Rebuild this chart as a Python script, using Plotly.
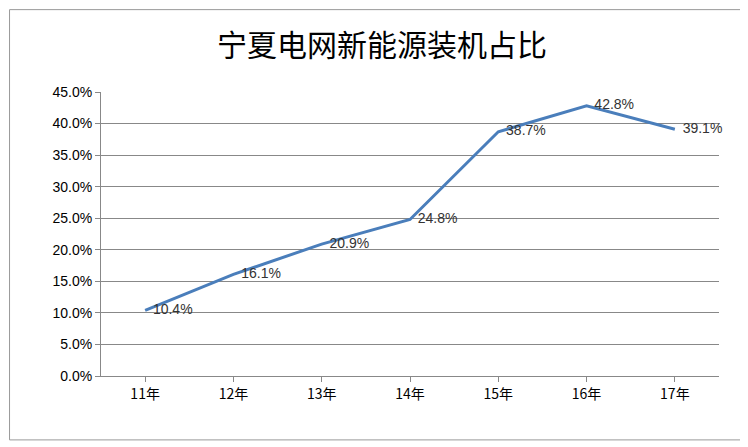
import plotly.graph_objects as go

categories = ["11年", "12年", "13年", "14年", "15年", "16年", "17年"]
values = [10.4, 16.1, 20.9, 24.8, 38.7, 42.8, 39.1]
labels = ["10.4%", "16.1%", "20.9%", "24.8%", "38.7%", "42.8%", "39.1%"]

fig = go.Figure(go.Scatter(
    x=categories, y=values, mode="lines+text", text=["  " + t for t in labels],
    textposition="middle right", line=dict(color="#4a7ebb", width=3),
    textfont=dict(size=14, color="#333", family="Liberation Sans, Arial"),
    cliponaxis=False))

fig.update_layout(
    width=748, height=447, paper_bgcolor="white", plot_bgcolor="white",
    margin=dict(l=93, r=37, t=84, b=79),
    title=dict(text="宁夏电网新能源装机占比", x=0.5, xanchor="center", y=0.915, yanchor="middle",
               font=dict(size=30, family="Noto Sans CJK SC", color="#000")),
    showlegend=False,
    xaxis=dict(range=[-0.5, 6.5], showgrid=False, showline=True, linecolor="#888",
               ticks="outside", tickcolor="#888", ticklen=5,
               tickfont=dict(size=14, family="Noto Sans CJK SC", color="#000")),
    yaxis=dict(range=[0, 45], dtick=5, tickformat=".1f", ticksuffix="%",
               showgrid=True, gridcolor="#888", gridwidth=1, showline=True, linecolor="#888",
               ticks="outside", tickcolor="#888", ticklen=5,
               tickfont=dict(size=14, family="Liberation Sans, Arial", color="#000")),
    shapes=[dict(type="rect", xref="paper", yref="paper", x0=-0.148, x1=1.044, y0=-0.225, y1=1.29,
                 line=dict(color="#999", width=1))],
)
fig.write_html("out.html")
